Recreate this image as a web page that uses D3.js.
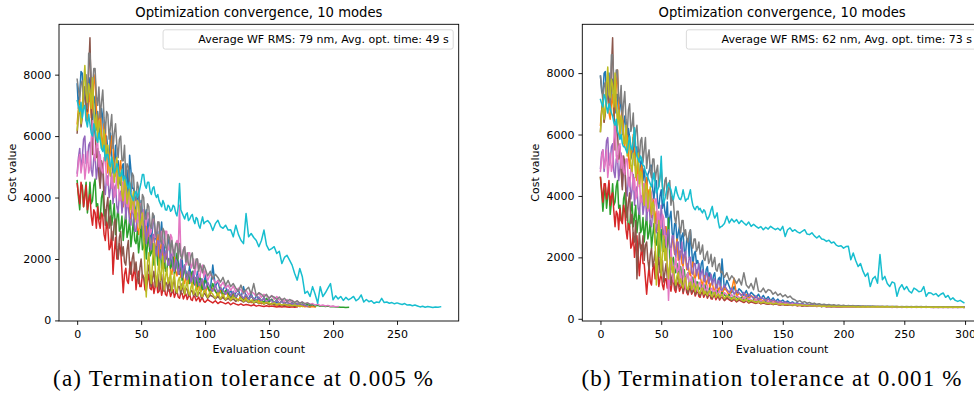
<!DOCTYPE html>
<html>
<head>
<meta charset="utf-8">
<script src="https://cdn.jsdelivr.net/npm/d3@7"></script>
<style>
  body { margin: 0; background: #fff; }
  svg { display: block; }
</style>
</head>
<body>
<svg id="fig" width="974" height="408"></svg>
<script>
// Cost value of each optimisation run: one value per evaluation for the first
// DENSE_EVALS evaluations, then one value every EVAL_STEP evaluations.
const DENSE_EVALS = 100;
const EVAL_STEP = 2;

// ---- (a) termination tolerance 0.005 % ----
const runA1 = [7700,6900,7400,8100,8050,7200,7600,6500,6900,7500,7900,6800,6400,7100,7300,6200,6800,6300,5900,6900,6600,5600,5300,6000,5500,4900,6100,5400,4800,5200,5700,4700,5200,4500,4400,5000,5100,4200,4600,4900,3900,5380,4900,4300,4300,3700,3500,4000,4200,3300,3900,3500,2900,3400,3600,2800,3300,3000,2500,3100,3400,2700,2600,2900,2300,2700,3200,2600,2400,2100,2000,2500,2700,2000,1800,2200,2300,1700,2100,1900,1500,1900,2000,1500,1700,1600,1300,1500,1800,1300,1400,1500,1150,1300,1600,1200,1250,1350,1100,1000,
  1500,1050,950,1800,1100,1300,900,1000,1150,820,980,760,900,1000,720,1100,760,700,880,640,800,700,600,740,560,640,680,520,600,540,500,560,480,520,500,470,500,455,470,480,450,440];
const runA2 = [6400,6900,7200,6600,6900,7500,7600,6800,6500,7100,7400,6600,7000,7700,8000,6900,6200,6500,6900,6000,5600,6400,6300,5400,4800,5300,5500,6000,5800,4900,4700,5200,4400,4900,5200,4200,3700,4300,4600,3900,4100,3500,3300,3800,3900,3200,3600,3000,2800,3300,3500,2900,2600,2900,3100,2400,2900,2500,2200,2700,2700,2200,2500,2800,1900,2300,2600,2000,1700,2100,2300,1800,2000,1600,1500,1900,2100,1600,1450,1700,1750,1400,1600,1300,1200,1450,1500,1200,1350,1500,1050,1250,1400,1100,1000,1150,1200,950,1300,1050,
  900,1100,850,1050,950,780,1000,760,950,800,700,860,760,640,820,650,740,700,580,700,600,640,540,610,580,500,560,520,480,530,490,510,470,500,480,455,490,450,470,445,460,440,455,435];
const runA3 = [4550,4000,3600,4300,4400,3700,4100,4500,3500,3900,4500,3800,3900,4400,4600,3700,3800,3300,3300,4000,4200,3400,3600,3000,3100,3600,3900,3100,3400,3800,2800,3300,3700,2900,3000,3400,2600,3100,3500,2700,2900,3300,2400,2800,3300,2600,2500,2900,2200,2600,3100,2300,2400,2800,2000,2500,2700,2100,2200,2500,1800,2200,2400,1800,1900,2300,1700,2000,2200,1600,1600,2000,2000,1700,1800,2100,1500,1700,2190,1700,1600,1900,1300,1500,1800,1400,1400,1600,1200,1500,1600,1200,1250,1400,1100,1300,1450,1100,1000,1250,
  1300,1100,900,1200,950,850,1100,800,980,900,760,920,730,870,800,700,830,670,790,700,620,750,650,600,720,600,690,580,660,560,630,550,600,530,580,520,560,500,540,490,520,480,510,470,490,460,480,450,470,445,450,435,440,428,432,422,425];
const runA4 = [4450,4100,3800,4500,4300,3700,4000,4400,3600,3900,4100,3400,3100,3600,3500,3000,3700,3200,3000,3500,3400,2800,2600,3200,3000,2300,2400,2900,1500,2200,2700,2000,2000,2500,2300,1600,900,1500,1700,1300,1200,1700,1900,1300,1500,1800,1000,1400,1600,1100,1100,1500,1400,1000,950,1300,1500,1050,1000,1250,880,1100,1300,900,950,1200,820,1000,1150,850,800,1050,1000,780,900,1000,750,880,950,760,720,900,880,700,800,860,680,780,830,680,650,800,760,640,700,760,610,700,720,620,
  590,680,620,570,640,550,610,580,540,590,510,570,530,500,540,490,520,500,480,510,465,490,470,455,480,450,470,455,440,455,435,450,440,430,445,428,440];
const runA5 = [4800,5300,5600,4900,5300,5900,6000,5100,5200,5700,5800,4900,4700,5300,5400,4600,5000,5500,4400,4900,5100,4400,4100,4700,4700,4000,4300,4800,3800,4300,4400,3700,3500,4100,4200,3500,3900,4300,3300,3800,3700,3200,3100,3600,3500,2900,2900,3500,3400,3000,3640,3000,2700,3200,2500,2900,3000,2400,2300,2800,2800,2300,2100,2600,2500,2000,2200,2600,1900,2200,2300,1800,1800,2200,2100,1700,1600,2000,1900,1500,1700,2000,1400,1700,1800,1400,1300,1600,1550,1250,1400,1600,1200,1400,1450,1150,1100,1300,1350,1050,
  1000,1250,1050,950,1150,900,1050,980,850,1000,800,950,760,880,820,720,840,690,800,700,660,760,630,720,600,690,640,580,650,560,620,540,600,520,570,500,550,490,520,480,470];
const runA6 = [6100,6700,7000,6300,6600,7300,7600,7000,6800,8100,9200,7100,5400,6300,6200,5300,5600,4700,4300,5200,5000,3900,3100,3700,4000,3000,3400,2700,2600,3200,3300,2400,2000,2700,2900,2100,2400,1900,1800,2300,2600,1800,1500,2000,2200,1600,1900,1400,1200,1700,2000,1400,1400,1200,1150,1600,1800,1200,1100,1400,1600,1100,1250,1500,1000,1300,1500,1000,950,1250,1200,950,1400,1000,900,1200,1300,900,880,1100,1100,850,1200,950,850,1050,1000,800,820,980,950,800,900,780,780,900,900,740,750,880,
  860,720,820,780,700,780,680,750,660,720,640,700,620,680,650,600,650,580,630,560,610,550,590,530,570,520,550,500,530,490,510,480,500,470,490,460,475];
const runA7 = [4700,5200,5400,4800,5100,5400,4600,5000,5500,4800,5000,5900,6500,5400,5200,5700,5800,5000,5400,4900,4800,5300,5300,4500,4400,5000,5000,4300,4700,4000,4100,4800,4700,3900,3900,4500,4500,3800,4200,3700,3700,4300,4300,3600,3500,4000,4000,3200,3300,3800,3800,3100,3600,3300,3100,3500,3500,2800,2900,3300,3300,2700,2700,3200,3100,2500,2900,2600,2500,2900,2900,2300,2300,2800,2700,2100,2200,2500,2600,2300,3750,2200,2000,2300,2400,1800,1900,2200,2200,1700,1800,2000,1500,1800,2000,1500,1400,1700,1800,1400,
  1650,1300,1500,1400,1200,1300,1100,1250,1050,1150,980,1120,920,1050,990,870,990,830,940,880,790,890,750,850,800,720,810,690,780,660,700,620,680,600,650,580,620,560,600,540,570,520,550,500,530,480,500,470,490,455,470,448,455];
const runA8 = [7850,7500,7200,7700,7800,7100,7400,8000,6900,8700,8700,7900,7600,8200,8200,7300,7000,7600,6600,7100,7500,6600,6100,6800,6700,5900,6300,6700,5600,6100,6400,5700,5300,5900,6000,5200,5200,5700,4600,5100,5000,4500,4200,4800,4700,4000,3900,4500,4300,3700,3500,4100,4000,3300,3300,3800,3700,3100,3000,3500,3400,2900,2700,3200,3200,2600,2500,3000,2900,2400,2300,2800,2700,2200,2600,2300,2100,2500,2500,2000,2500,2100,2000,2300,2400,1900,2200,1800,1800,2100,2200,1700,1700,2000,2000,1600,1850,1700,1550,1800,
  1700,1450,1600,1350,1500,1400,1250,1400,1150,1300,1100,1200,1050,950,1150,900,1000,1080,850,1200,800,900,850,760,850,720,800,760,680,760,650,720,620,680,640,590,640,560,600,540,570,520,500];
const runA9 = [6200,6800,7000,6400,6700,7600,8300,7400,7100,7700,7500,6900,7900,6900,6200,6700,5800,6500,6300,5600,5600,6200,5200,5700,5700,4900,4700,5300,5200,4500,4900,5300,4300,4700,4800,4100,3900,4600,4500,3800,4100,4300,3600,3900,4200,3400,3300,3900,3800,3000,3200,3500,2800,1600,760,1900,2200,1500,1200,2000,2500,1700,1100,1500,2000,1300,1600,2100,1000,1400,1700,1200,1300,1600,950,1300,1500,1000,900,1300,1400,1000,1100,1300,850,1100,1300,900,820,1100,1200,850,950,1100,800,950,1100,800,780,950,
  1000,750,950,850,720,900,700,850,680,800,660,760,700,640,720,620,690,600,660,580,640,560,610,540,590,560,520,570,510,550,500,530,490,510,480,500,470,490,455];
const runA10 = [7150,7000,6800,7100,6600,6900,7000,6500,6300,6700,6400,6100,6000,6400,6200,5900,5800,6100,5870,5600,5500,5700,5200,5400,5400,5100,5000,5300,5100,4800,4900,5100,5000,4700,4700,4900,4560,4700,4600,4400,4300,4500,4100,4000,3900,4100,4200,4000,4100,4300,4500,4750,4750,4400,4300,4500,4500,4200,4100,4300,4350,4100,4000,4100,3900,3800,3700,3900,3800,3600,3590,3750,3700,3550,3600,3750,3700,3500,3400,3700,4460,3600,3500,3400,3300,3450,3500,3250,3300,3400,3450,3250,3150,3350,3300,3100,3000,3200,3370,3150,
  3200,3250,3150,2930,3150,3260,3050,3000,3100,2940,2950,2720,3100,2800,2610,2500,3480,2720,2830,2700,2600,2400,2600,2940,2450,2290,2340,2400,2180,2250,1850,2050,2120,1960,1800,1530,1310,1690,1420,880,950,780,1100,850,560,1100,780,900,1050,1200,670,800,700,780,650,750,670,720,780,640,700,830,600,680,610,640,560,600,580,720,580,600,560,580,540,570,540,520,550,500,510,480,500,470,440,460,430,450,440,420,440,430,445];

// ---- (b) termination tolerance 0.001 % ----
const runB1 = [7900,7400,7300,8000,8050,7300,7600,8000,7000,7500,7800,7000,6700,7300,7300,6500,6900,7300,6000,6400,6600,5900,5500,6200,5900,5200,5400,5900,5000,5400,5600,4800,4600,5100,5200,4500,4900,4400,4300,4700,4800,5000,5000,4200,3900,4400,4500,3800,3600,4000,4200,3600,3900,3500,3300,3800,2900,3300,3500,2800,2600,3100,3100,2500,2800,3000,2300,2700,2800,2200,2100,2600,2600,2000,2900,2300,1700,2100,2200,1800,1900,1700,1500,1800,1900,1400,1250,1600,1700,1300,1500,1300,1150,1400,1500,1100,1050,1300,1350,1000,
  1950,950,1250,1050,850,1050,800,980,900,760,920,720,860,780,680,800,650,760,620,720,590,680,570,640,550,610,530,580,510,550,490,520,470,500,460,480,450,470,440,455,430,445,425,440,420,430,415,425,410,420,405,418,402,415,400,412,398,410,396,408,395,405,394,404,392,402,390,400,390,398,388,398,388,396,386,395,386,394,385,393,384,392,384,392,383,391,383,390,382,390,382,389,381,389,381,388,380,388,380,387];
const runB2 = [6300,6800,7100,6400,6800,7400,7500,6700,6500,7000,7300,6600,6900,7600,8100,7000,6100,6600,6800,6000,5600,6200,6100,5300,4900,5400,5500,6000,5600,4800,4500,5100,4300,4800,5000,4100,3700,4200,4600,3900,4200,3600,3300,3900,3800,3100,3500,2900,2800,3300,3400,2800,2600,3000,3000,2400,2800,2300,2100,2600,2500,2100,2300,2600,1900,2200,2200,1800,1700,2100,2000,1600,1800,1500,1400,1700,1850,1400,1300,1600,1550,1300,1400,1200,1100,1350,1400,1100,1250,1350,1000,1150,1200,950,920,1100,1100,900,1000,1050,
  800,1000,900,760,950,1320,720,840,780,650,790,650,750,700,590,670,620,570,630,550,600,530,570,510,540,490,515,475,495,460,480,450,465,440,455,432,445,425,438,420,432,416,428,412,424,408,420,405,416,402,414,400,411,398,409,396,407,395,405,393,404,392,402,391,401,390,400,389,399,388,398,388,397,387,396,386,396,386,395,385,394,385,394,384,393,384,393,383,392,383,392,382,391,382,391,382,390,381,390,381];
const runB3 = [4600,4100,3500,4000,4300,3600,4000,4400,3400,3800,4400,3700,3800,4300,4500,3600,3700,3200,3200,3900,4100,3300,3500,2900,3000,3500,3800,3000,3300,3700,2800,3200,3600,2800,2900,3300,2500,3000,3400,2600,2800,3200,2300,2700,3100,2500,2400,2800,2000,2500,2900,2200,2200,2600,1900,2400,3280,2000,1600,1900,2000,1600,1500,1800,1300,1600,1700,1300,1400,1600,1150,1400,1500,1100,1050,1300,1350,1000,950,1200,1200,950,1000,1100,880,1000,1100,850,820,950,1000,800,900,820,770,900,920,720,720,820,
  850,780,680,790,640,740,690,610,700,580,660,600,560,620,540,590,560,520,560,500,540,485,520,470,500,460,485,450,470,440,460,432,450,425,442,418,435,412,428,405,420,400,415,396,410,392,405,388,400,386,398,384,395,382,394,380,392,379,391,378,390,377,389,376,388,376,387,375,386,375,386,374,385,374,385,373,384,373,384,373,383,372,383,372,382,372,382,371,382,371,381,371,381,370,381,370,380,370,380,370];
const runB4 = [4600,4200,3800,4400,4400,3900,4100,4500,3700,4000,4100,3500,3000,3500,3400,2900,3600,3200,3100,3700,3500,2900,2600,3100,3000,2300,2400,2800,2000,2400,2700,2000,1400,2000,2400,1800,1800,1300,800,1300,1700,1200,1100,1600,1800,1300,1400,1700,1050,1300,1500,1100,950,1300,1300,1000,1400,1100,900,1200,1300,950,860,1100,1200,900,1000,1150,820,1000,1100,850,780,950,1000,800,880,980,740,850,920,730,700,850,860,700,780,850,670,760,800,650,640,760,750,620,690,740,610,680,
  710,590,670,620,570,640,550,610,570,530,580,515,555,520,500,535,485,515,490,470,500,460,485,460,450,472,440,460,445,432,450,425,442,418,435,412,428,406,422,402,416,398,412,395,408,392,405,390,402,388,400,386,398,385,396,384,395,383,394,382,393,381,392,380,391,380,390,379,389,379,389,378,388,378,388,377,387,377,387,376,386,376,386,376,385,375,385,375,385,375,384,374,384,374,384,374,383,373,383,372];
const runB5 = [4900,5400,5500,4800,5200,5800,5900,5000,5100,5600,5700,4800,4600,5200,5300,4500,4900,5400,4300,4800,5000,4300,4000,4600,4600,3900,4200,4700,3700,4200,4300,3600,3400,4000,4000,3400,3700,4100,3200,3700,3800,3100,3000,3500,3600,2900,2800,3300,3400,2900,3700,3100,2600,3000,2400,2800,2900,2300,2200,2700,2700,2200,2000,2500,2500,1900,2100,2500,1800,2100,2200,1700,1600,2000,2000,1500,1450,1800,1800,1400,1600,1800,1300,1500,1600,1250,1200,1500,1450,1150,1300,1450,1100,1250,1300,1000,1000,1250,1200,950,
  920,1100,950,860,1000,800,920,850,750,860,700,800,740,660,750,620,700,650,590,650,560,610,580,535,580,515,550,520,495,525,480,505,465,488,452,472,442,460,433,450,425,440,418,432,412,426,407,420,402,415,398,411,395,408,392,405,390,402,388,400,386,398,385,397,384,396,383,395,382,394,381,393,380,392,380,391,379,391,379,390,378,390,378,389,378,389,377,388,377,388,377,387,376,387,376,387,376,386,376,386];
const runB6 = [6100,6800,7100,6400,6700,7400,7700,7100,6900,8200,9150,7000,5500,6400,6100,5200,5600,4800,4200,5300,5100,4000,3200,3800,4100,3100,3400,2700,2500,3200,1300,2100,2800,2300,2200,2700,1900,2400,2500,1900,1600,2100,2300,1700,1900,2200,1300,1700,2000,1500,1500,1900,1200,1500,1800,1300,1400,1700,1100,1400,1600,1100,950,1300,1450,1050,1100,1350,880,1100,1300,950,820,1050,1150,850,950,1100,780,900,1050,800,740,900,950,760,820,920,700,800,880,700,670,800,820,680,720,800,640,700,
  760,610,710,640,590,670,570,630,590,550,600,530,570,545,510,545,495,525,500,480,505,468,490,470,456,476,446,464,450,437,453,430,444,423,436,417,429,412,423,407,418,403,413,399,409,396,405,393,402,391,399,389,397,387,395,386,393,385,392,384,391,383,390,382,389,381,388,381,388,380,387,380,387,379,386,379,386,378,385,378,385,378,385,377,384,377,384,377,384,376,383,376,383,376,383,376,382,375,382,375];
const runB7 = [4800,5300,5500,4900,5100,5500,4600,5000,5400,4800,5000,5800,6400,5300,5100,5600,5700,4900,5300,4800,4700,5200,5200,4400,4300,4900,4900,4200,4600,3900,4000,4700,4600,3800,3800,4400,4400,3700,4100,3500,3600,4200,4100,3400,3400,3900,3900,3100,3500,3200,3000,3400,3300,2700,2700,1800,600,1500,2300,1800,1200,1700,2000,1500,1600,1900,1100,1400,1700,1200,1000,1400,1500,1100,1200,1400,950,1100,1300,1000,900,1150,1200,900,1000,1150,850,950,1100,820,800,980,1000,780,900,960,760,850,920,740,
  720,850,780,680,790,650,740,700,620,700,590,660,620,565,625,540,595,560,520,565,500,540,510,485,518,470,498,475,457,480,446,465,436,452,427,441,419,432,412,424,406,417,400,411,396,406,392,402,388,398,385,395,382,393,380,391,378,389,377,388,375,387,374,386,373,385,372,384,372,383,371,383,371,382,370,382,370,381,370,381,369,380,369,380,369,380,368,379,368,379,368,379,368,378,367,378,367,378,367,377];
const runB8 = [7900,7500,7100,7600,7700,7000,7300,7900,6800,8600,8600,7800,7500,8100,8100,7200,7000,7600,6500,7000,7400,6500,6000,6800,7000,6100,6300,6700,5600,6100,6300,5600,5200,5800,5900,5100,5500,5900,4900,5300,5500,4800,4600,5200,5200,4500,4800,5000,4300,4600,4900,4300,4000,4500,4600,3900,4200,4500,3700,4000,3800,3300,3100,3500,3500,3000,2800,3200,3200,2700,2900,2600,2500,2800,2900,2400,2300,2600,2600,2200,2300,2500,2100,2200,2400,1950,1900,2100,2200,1800,1900,2100,1700,1850,2000,1600,1550,1750,1800,1500,
  1550,1350,1500,1250,1400,1300,1150,1300,1100,1500,1100,1000,1150,950,1330,900,880,1000,850,950,920,800,870,760,820,720,780,690,740,650,620,560,590,530,560,510,530,490,510,470,490,458,475,448,465,440,455,432,447,426,440,420,434,415,429,411,424,407,420,404,416,401,413,399,410,397,408,395,406,394,404,392,402,391,401,390,400,389,399,388,398,388,397,387,397,387,396,386,396,385,395,385,395,384,394,384,394,384,393,383];
const runB9 = [6100,6700,7100,6500,6800,7600,8200,7300,7200,7800,7600,6900,8000,7000,6300,6800,5900,6600,6400,5700,5700,6300,5300,5800,5800,5000,4800,5400,5300,4600,5000,5400,4400,4800,4700,4000,3700,4400,4300,3600,4000,4300,3400,3800,3700,2400,1100,2200,3200,2500,1400,2100,2700,1900,2300,1700,1300,1800,2000,1500,1700,1300,1100,1400,1500,1150,1300,1100,1000,1250,1350,1000,950,1150,1200,950,1050,1150,880,1000,1100,850,820,980,1000,800,900,820,760,880,920,750,720,850,860,700,760,820,690,760,
  800,660,750,700,630,710,600,670,620,575,635,550,600,570,530,570,512,545,520,496,522,482,505,485,470,490,458,476,460,448,464,439,454,431,445,424,437,418,430,412,424,407,418,403,413,399,409,396,405,393,402,391,399,389,397,387,395,386,393,385,392,384,391,383,390,382,389,381,388,381,388,380,387,380,387,379,386,379,386,379,385,378,385,378,385,378,384,377,384,377,384,377,383,377,383,376,383,376,383,376];
const runB10 = [7140,7000,6900,7300,7200,6900,6700,7000,6900,6700,6600,6400,6300,6500,6100,6000,5840,6000,5700,5600,5600,5500,5400,5700,5950,5600,5500,5800,6220,5600,5300,5200,5100,5300,5200,5000,4970,4800,4700,4600,4500,4400,4300,4500,4750,4400,4100,4200,4300,4600,5290,4300,3770,3900,4100,4300,4420,4300,4200,4000,3880,4100,4300,4100,3990,3900,3880,4000,4200,4000,3830,3900,3900,4050,4200,3900,3700,3600,3550,3650,3660,3550,3600,3500,3450,3550,3500,3350,3230,3300,3400,3550,3660,3400,3280,3350,3450,3150,2960,3000,
  3010,3100,3340,3120,3250,3150,3230,3100,3200,3120,3050,3150,3010,3080,3010,2950,3000,2900,2980,2920,3010,2950,2900,2950,2880,3010,2680,2900,2960,2850,2900,2830,2790,2850,2900,2760,2740,2800,2700,2630,2700,2600,2580,2520,2560,2470,2500,2400,2360,2380,2300,2350,2360,1920,2140,1900,1700,1800,1550,1380,1490,1050,1300,1380,1160,2090,1270,1380,1150,1050,1200,1160,730,1000,1110,950,1050,900,840,1000,950,880,900,1050,730,850,840,780,820,730,800,840,700,760,620,680,600,565,600,520];

const colors = ["#1f77b4","#ff7f0e","#2ca02c","#d62728","#9467bd","#8c564b","#e377c2","#7f7f7f","#bcbd22","#17becf"];
const yTicks = [0, 2000, 4000, 6000, 8000];
const xTicksA = [0, 50, 100, 150, 200, 250];
const xTicksB = [0, 50, 100, 150, 200, 250, 300];
const titleText = "Optimization convergence, 10 modes";
const legendA = "Average WF RMS: 79 nm, Avg. opt. time: 49 s";
const legendB = "Average WF RMS: 62 nm, Avg. opt. time: 73 s";
const captionA = "(a) Termination tolerance at 0.005 %";
const captionB = "(b) Termination tolerance at 0.001 %";

const panels = [
  { runs: [runA1,runA2,runA3,runA4,runA5,runA6,runA7,runA8,runA9,runA10], finalEval: null,
    xTicks: xTicksA, legend: legendA, caption: captionA, left: 59, captionX: 53 },
  { runs: [runB1,runB2,runB3,runB4,runB5,runB6,runB7,runB8,runB9,runB10], finalEval: 299,
    xTicks: xTicksB, legend: legendB, caption: captionB, left: 582.3, captionX: 581.5 }
];

// evaluation number of the i-th stored value
const evalAt = i => i < DENSE_EVALS ? i : DENSE_EVALS + (i - DENSE_EVALS) * EVAL_STEP;

const svg = d3.select("#fig");
const AX_W = 399.7, AX_H = 296.7, AX_TOP = 24.3;
const SANS = "DejaVu Sans, sans-serif";

panels.forEach(p => {
  const series = p.runs.map(vals => vals.map((v, i) => [
    (p.finalEval !== null && i === vals.length - 1) ? p.finalEval : evalAt(i), v]));
  const all = series.flat();
  const [xa, xb] = d3.extent(all, d => d[0]);
  const [ya, yb] = d3.extent(all, d => d[1]);
  const xm = (xb - xa) * 0.05, ym = (yb - ya) * 0.05;
  const x = d3.scaleLinear([xa - xm, xb + xm], [p.left, p.left + AX_W]);
  const y = d3.scaleLinear([ya - ym, yb + ym], [AX_TOP + AX_H, AX_TOP]);

  const g = svg.append("g");
  const line = d3.line().x(d => x(d[0])).y(d => y(d[1]));

  series.forEach((d, k) => {
    g.append("path")
      .attr("d", line(d))
      .attr("fill", "none")
      .attr("stroke", colors[k])
      .attr("stroke-width", 1.5)
      .attr("stroke-linejoin", "round")
      .attr("stroke-linecap", "square");
  });

  // axes frame
  g.append("rect")
    .attr("x", p.left).attr("y", AX_TOP)
    .attr("width", AX_W).attr("height", AX_H)
    .attr("fill", "none").attr("stroke", "#000").attr("stroke-width", 0.9);

  const xAxis = g.append("g")
    .attr("transform", `translate(0,${AX_TOP + AX_H})`)
    .call(d3.axisBottom(x).tickValues(p.xTicks).tickSize(3.9).tickPadding(5).tickFormat(d3.format("d")));
  const yAxis = g.append("g")
    .attr("transform", `translate(${p.left},0)`)
    .call(d3.axisLeft(y).tickValues(yTicks).tickSize(3.9).tickPadding(3.8).tickFormat(d3.format("d")));
  [xAxis, yAxis].forEach(a => {
    a.select(".domain").remove();
    a.attr("font-family", SANS).attr("font-size", 11).style("color", "#000");
    a.selectAll(".tick line").attr("stroke-width", 0.9);
  });

  const cx = p.left + AX_W / 2;
  g.append("text")
    .attr("x", cx).attr("y", 16.8)
    .attr("text-anchor", "middle")
    .attr("font-family", SANS).attr("font-size", 13.2)
    .text(titleText);

  g.append("text")
    .attr("x", cx).attr("y", 353)
    .attr("text-anchor", "middle")
    .attr("font-family", SANS).attr("font-size", 11)
    .text("Evaluation count");

  g.append("text")
    .attr("transform", `translate(${p.left - 43.3},${AX_TOP + AX_H / 2}) rotate(-90)`)
    .attr("text-anchor", "middle")
    .attr("font-family", SANS).attr("font-size", 11)
    .text("Cost value");

  // legend (text only, upper right)
  const lg = g.append("g");
  const box = lg.append("rect");
  const lt = lg.append("text")
    .attr("font-family", SANS).attr("font-size", 11)
    .attr("text-anchor", "end")
    .text(p.legend);
  const tw = lt.node().getComputedTextLength();
  const bRight = p.left + AX_W - 5.5, bTop = AX_TOP + 5.5;
  const bW = tw + 39.6, bH = 19.3;
  box.attr("x", bRight - bW).attr("y", bTop)
    .attr("width", bW).attr("height", bH)
    .attr("rx", 2.2)
    .attr("fill", "#fff").attr("fill-opacity", 0.8)
    .attr("stroke", "#d6d6d6").attr("stroke-width", 0.9);
  lt.attr("x", bRight - 4.4).attr("y", bTop + bH / 2 + 3.9);

  svg.append("text")
    .attr("x", p.captionX).attr("y", 386)
    .attr("font-family", "Liberation Serif, serif").attr("font-size", 23)
    .attr("textLength", 380).attr("lengthAdjust", "spacing")
    .text(p.caption);
});
</script>
</body>
</html>
